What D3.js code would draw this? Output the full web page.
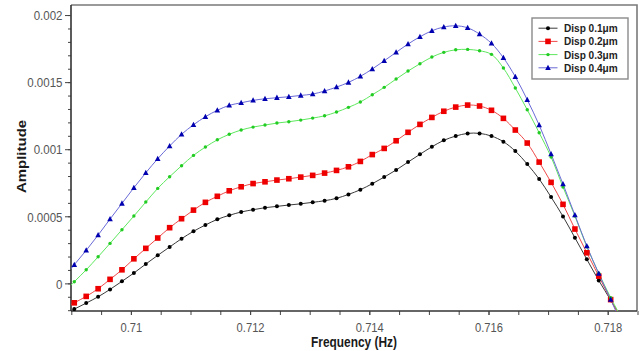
<!DOCTYPE html>
<html><head><meta charset="utf-8">
<script src="https://cdn.jsdelivr.net/npm/d3@7"></script>
<style>html,body{margin:0;padding:0;background:#fff;}svg{display:block;}</style>
</head><body>
<svg id="chart" width="641" height="351"></svg>
<script>
const frequency = [0.70885,0.70905,0.70925,0.70945,0.70965,0.70985,0.71005,0.71025,0.71045,0.71065,0.71085,0.71105,0.71125,0.71145,0.71165,0.71185,0.71205,0.71225,0.71245,0.71265,0.71285,0.71305,0.71325,0.71345,0.71365,0.71385,0.71405,0.71425,0.71445,0.71465,0.71485,0.71505,0.71525,0.71545,0.71565,0.71585,0.71605,0.71625,0.71645,0.71665,0.71685,0.71705,0.71725,0.71745,0.71765,0.71785,0.71805,0.71825];
const disp01 = [-0.000236,-0.000192,-0.000147,-0.000100,-0.000045,0.000015,0.000077,0.000144,0.000209,0.000271,0.000333,0.000388,0.000435,0.000477,0.000507,0.000532,0.000549,0.000564,0.000574,0.000584,0.000593,0.000604,0.000616,0.000634,0.000663,0.000698,0.000743,0.000792,0.000845,0.000904,0.000962,0.001018,0.001066,0.001098,0.001118,0.001118,0.001098,0.001056,0.000986,0.000889,0.000778,0.000643,0.000499,0.000340,0.000179,0.000022,-0.000125,-0.000274];
const disp02 = [-0.000193,-0.000145,-0.000097,-0.000040,0.000030,0.000101,0.000183,0.000261,0.000338,0.000415,0.000482,0.000546,0.000604,0.000649,0.000690,0.000720,0.000744,0.000757,0.000770,0.000780,0.000792,0.000805,0.000822,0.000842,0.000869,0.000909,0.000960,0.001006,0.001063,0.001126,0.001185,0.001237,0.001283,0.001314,0.001329,0.001322,0.001290,0.001230,0.001143,0.001046,0.000904,0.000753,0.000589,0.000405,0.000228,0.000054,-0.000121,-0.000289];
const disp03 = [-0.000080,0.000012,0.000101,0.000198,0.000298,0.000400,0.000502,0.000606,0.000708,0.000795,0.000877,0.000954,0.001016,0.001070,0.001111,0.001143,0.001165,0.001180,0.001195,0.001205,0.001217,0.001232,0.001249,0.001277,0.001312,0.001352,0.001406,0.001461,0.001523,0.001583,0.001637,0.001687,0.001722,0.001741,0.001744,0.001734,0.001707,0.001605,0.001456,0.001294,0.001123,0.000942,0.000718,0.000502,0.000273,0.000075,-0.000106,-0.000274];
const disp04 = [0.000028,0.000139,0.000246,0.000360,0.000479,0.000596,0.000713,0.000824,0.000929,0.001024,0.001111,0.001182,0.001242,0.001290,0.001327,0.001346,0.001364,0.001376,0.001384,0.001391,0.001401,0.001411,0.001434,0.001463,0.001498,0.001543,0.001598,0.001659,0.001722,0.001784,0.001838,0.001883,0.001911,0.001920,0.001905,0.001858,0.001789,0.001682,0.001540,0.001369,0.001180,0.000964,0.000740,0.000509,0.000278,0.000073,-0.000121,-0.000318];
const seriesNames = ["Disp 0.1\u03bcm","Disp 0.2\u03bcm","Disp 0.3\u03bcm","Disp 0.4\u03bcm"];
const xMajorTicks = [0.71,0.712,0.714,0.716,0.718];
const xTickLabels = ["0.71","0.712","0.714","0.716","0.718"];
const yMajorTicks = [0,0.0005,0.001,0.0015,0.002];
const yTickLabels = ["0","0.0005","0.001","0.0015","0.002"];

const series = [
  {name:seriesNames[0], values:disp01, line:"#3a3a3a", fill:"#000000", shape:"circle", size:2.0},
  {name:seriesNames[1], values:disp02, line:"#f04848", fill:"#ee0000", shape:"square", size:2.8},
  {name:seriesNames[2], values:disp03, line:"#5ee85e", fill:"#22cc22", shape:"circle", size:1.7},
  {name:seriesNames[3], values:disp04, line:"#6a6ad8", fill:"#0000b0", shape:"triangle", size:2.8}
];

const L=71, R=637, T=5, B=311;
const x = d3.scaleLinear().domain([0.709,0.7185]).range([L+0.3,R+0.5]);
const y = d3.scaleLinear().domain([-0.000206,0.002075]).range([B,T]);

const svg = d3.select("#chart");
svg.append("defs").append("clipPath").attr("id","clip")
  .append("rect").attr("x",L).attr("y",T).attr("width",R-L).attr("height",B-T);

svg.append("path").attr("d",`M${L},${T}H${R}V${B}`).attr("fill","none").attr("stroke","#7a7a7a").attr("stroke-width",1.6);

const FONT = "'Liberation Sans', Arial, sans-serif";
function sx(s){return `scale(${s},1)`;}

// y axis
const yMinor = d3.range(-2,21).map(i=>i*0.0001);
const gyMin = svg.append("g").attr("transform",`translate(${L},0)`)
  .call(d3.axisLeft(y).tickValues(yMinor).tickSize(3).tickFormat(""));
gyMin.select(".domain").remove();
gyMin.selectAll("line").attr("stroke","#444");
const gy = svg.append("g").attr("transform",`translate(${L},0)`)
  .call(d3.axisLeft(y).tickValues(yMajorTicks).tickSize(6).tickFormat((d,i)=>yTickLabels[i]));
gy.select(".domain").attr("stroke","#333").attr("stroke-width",1.6).attr("d",`M0,${B}V${T}`);
gy.selectAll("line").attr("stroke","#444");
gy.selectAll("text").attr("font-family",FONT).attr("font-size",13.5).attr("fill","#555")
  .attr("x",0).attr("dy","0.35em")
  .attr("transform",`translate(-8.5,0) ${sx(0.855)}`);

// x axis
const xMinor = d3.range(0,20).map(i=>0.709+i*0.0005);
const gxMin = svg.append("g").attr("transform",`translate(0,${B})`)
  .call(d3.axisBottom(x).tickValues(xMinor).tickSize(4).tickFormat(""));
gxMin.select(".domain").remove();
gxMin.selectAll("line").attr("stroke","#444");
const gx = svg.append("g").attr("transform",`translate(0,${B})`)
  .call(d3.axisBottom(x).tickValues(xMajorTicks).tickSize(4).tickFormat((d,i)=>xTickLabels[i]));
gx.select(".domain").attr("stroke","#333").attr("stroke-width",1.6).attr("d",`M${L},0H${R}`);
gx.selectAll("line").attr("stroke","#444");
gx.selectAll("text").attr("font-family",FONT).attr("font-size",13).attr("fill","#555")
  .attr("y",0).attr("dy",0)
  .attr("transform",`translate(0,20.5) ${sx(0.86)}`);

// titles
svg.append("text").attr("transform",`translate(354,347.4) ${sx(0.85)}`)
  .attr("text-anchor","middle").attr("font-family",FONT).attr("font-weight",700)
  .attr("font-size",14).attr("fill","#1a1a1a").text("Frequency (Hz)");
svg.append("text").attr("transform",`translate(25.5,156.5) ${sx(0.85)} rotate(-90)`)
  .attr("text-anchor","middle").attr("font-family",FONT).attr("font-weight",700)
  .attr("font-size",15).attr("fill","#1a1a1a").text("Amplitude");

// lines & markers
const plot = svg.append("g").attr("clip-path","url(#clip)");
const line = d3.line().x((d,i)=>x(frequency[i])).y(d=>y(d)).curve(d3.curveCatmullRom);

function drawMarker(g, shape, cx, cy, s, fill){
  if(shape==="circle") g.append("circle").attr("cx",cx).attr("cy",cy).attr("r",s).attr("fill",fill);
  else if(shape==="square") g.append("rect").attr("x",cx-s).attr("y",cy-s).attr("width",2*s).attr("height",2*s).attr("fill",fill);
  else g.append("path").attr("d",`M${cx},${cy-s*1.1}L${cx+s},${cy+s*0.8}L${cx-s},${cy+s*0.8}Z`).attr("fill",fill);
}

series.forEach(s=>{
  plot.append("path").datum(s.values).attr("d",line).attr("fill","none")
    .attr("stroke",s.line).attr("stroke-width",1);
});
series.forEach(s=>{
  const g = plot.append("g");
  s.values.forEach((v,i)=>drawMarker(g,s.shape,x(frequency[i]),y(v),s.size,s.fill));
});

// legend
const lg = svg.append("g");
lg.append("rect").attr("x",532).attr("y",18).attr("width",96).attr("height",61)
  .attr("fill","#fff").attr("stroke","#8a8a8a").attr("stroke-width",1.4);
series.forEach((s,i)=>{
  const ry = 28.2 + i*13.2;
  lg.append("line").attr("x1",538.5).attr("x2",557.5).attr("y1",ry).attr("y2",ry)
    .attr("stroke",s.line).attr("stroke-width",1);
  drawMarker(lg,s.shape,548,ry,s.size,s.fill);
  lg.append("text").attr("transform",`translate(564,${ry}) ${sx(0.9)}`).attr("dy","0.36em")
    .attr("font-family",FONT).attr("font-weight",700).attr("font-size",11.2).attr("fill","#222").text(s.name);
});
</script>
</body></html>
